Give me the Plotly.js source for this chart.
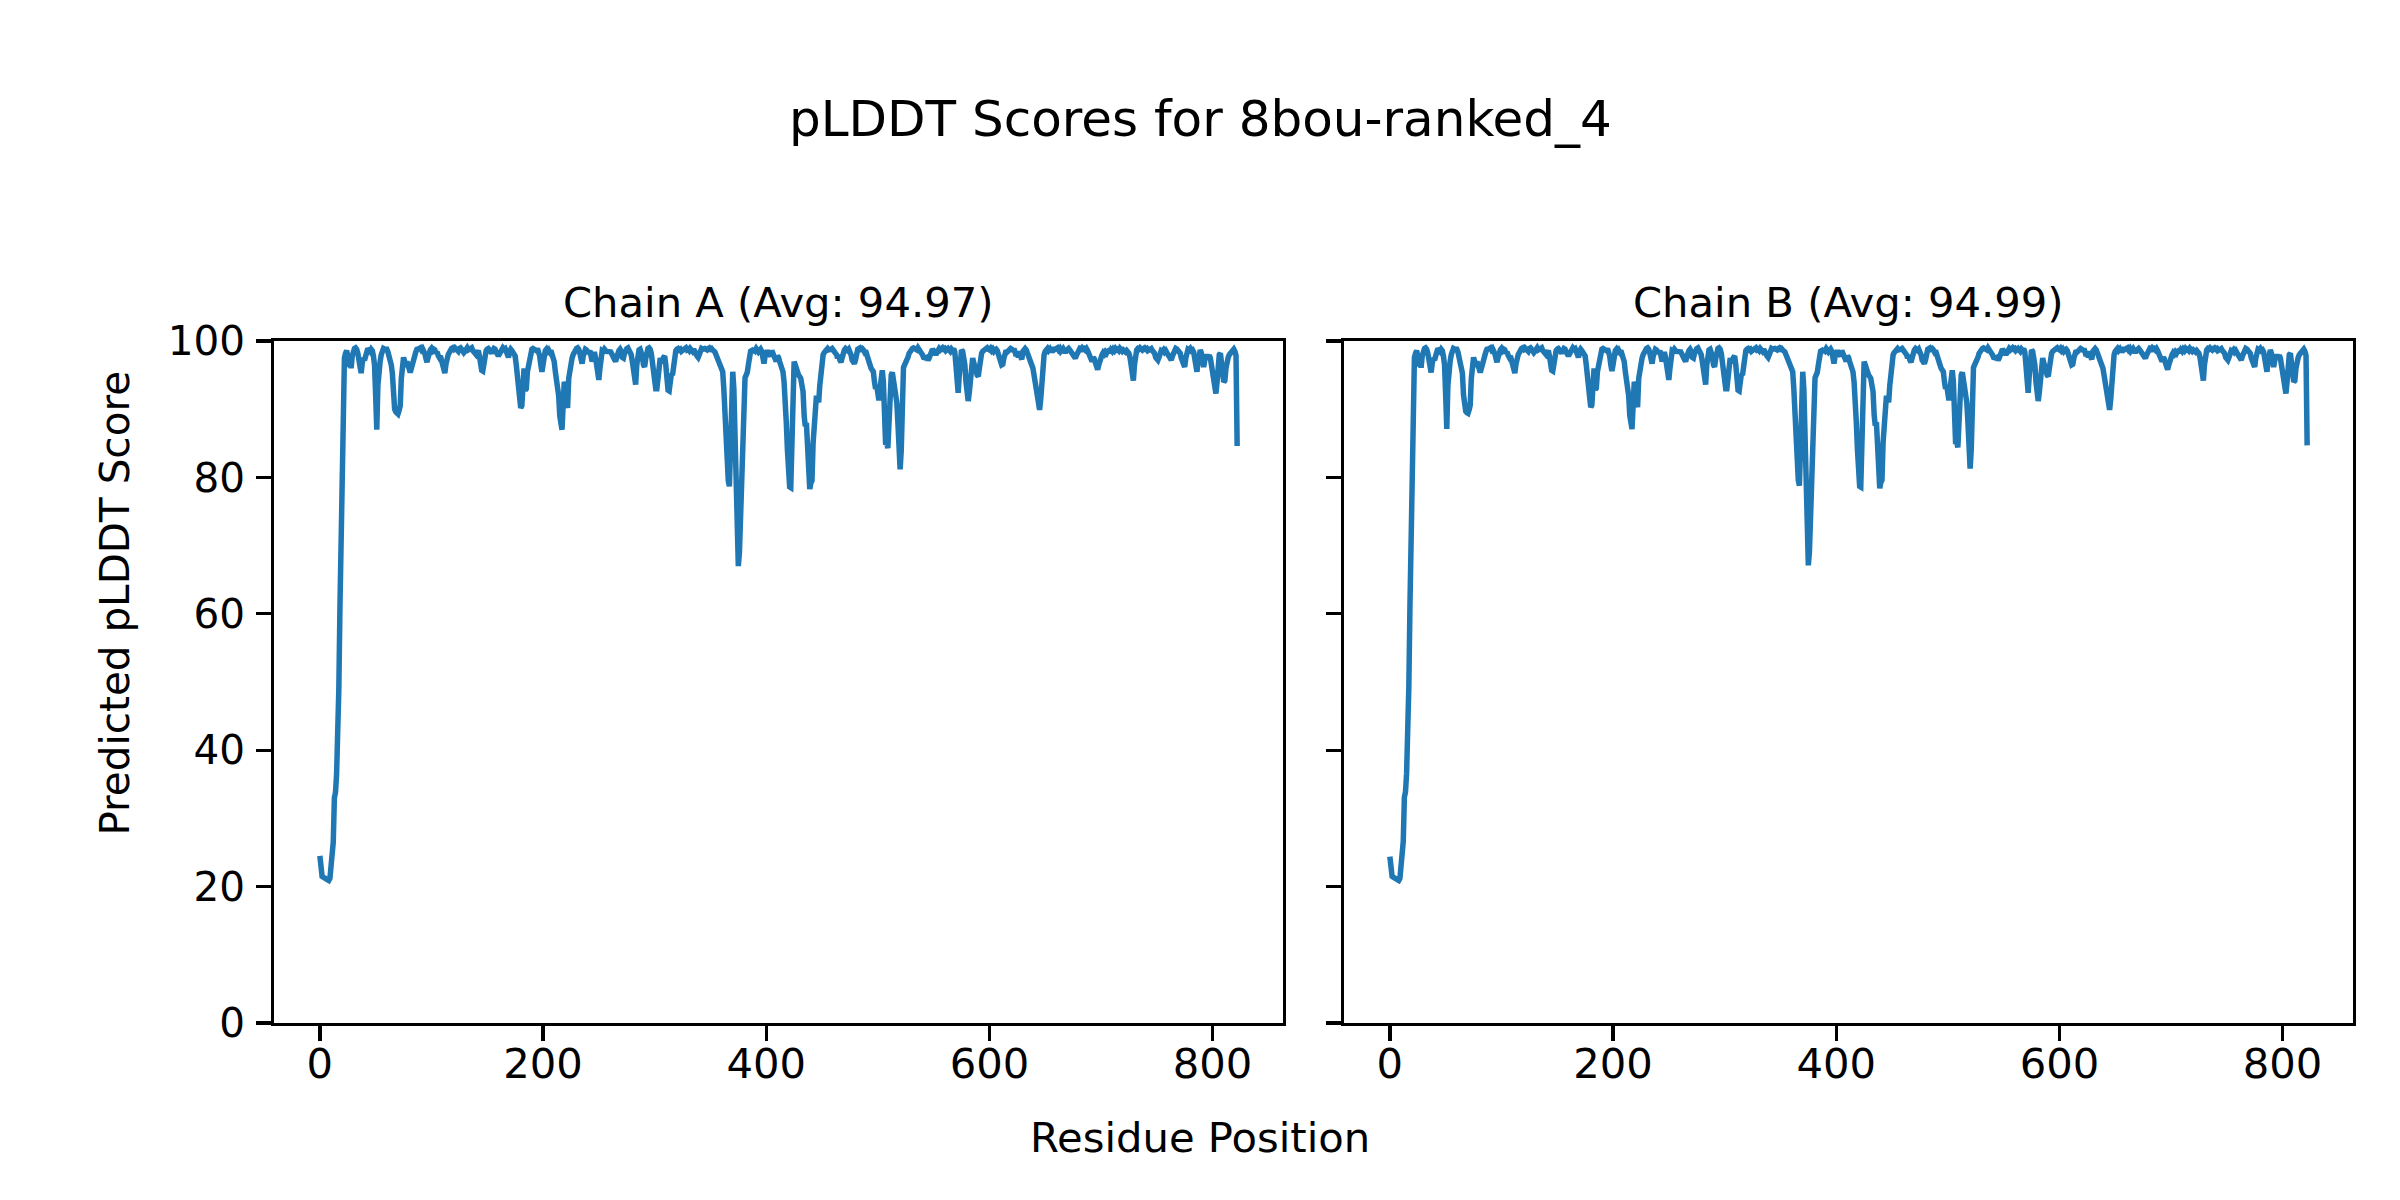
<!DOCTYPE html>
<html>
<head>
<meta charset="utf-8">
<script src="https://cdn.plot.ly/plotly-3.0.1.min.js"></script>
<style>html,body{margin:0;padding:0;background:#fff;}#chart{width:2400px;height:1200px;}</style>
</head>
<body>
<div id="chart"></div>
<script>
const figTitle = "pLDDT Scores for 8bou-ranked_4";
const chainTitles = ["Chain A (Avg: 94.97)", "Chain B (Avg: 94.99)"];
const xLabel = "Residue Position";
const yLabel = "Predicted pLDDT Score";
const xTicks = [0, 200, 400, 600, 800];
const yTicks = [0, 20, 40, 60, 80, 100];

const chainA = [
24.5,21.8,21.5,21.4,21.2,21.0,21.1,21.0,20.9,21.2,
23.5,24.2,26.5,33.0,33.8,36.5,42.0,49.0,61.0,73.0,
84.0,92.0,97.5,98.2,98.6,97.8,96.2,97.5,96.0,97.8,
98.5,98.9,99.0,98.8,98.2,97.0,96.0,95.3,96.8,97.5,
97.2,98.0,98.6,98.9,98.7,98.5,98.8,98.6,97.8,96.5,
92.0,87.0,93.5,96.2,97.0,98.0,98.6,98.9,98.8,98.7,
98.8,98.4,97.8,97.2,96.5,95.2,92.0,90.0,89.6,89.4,
89.3,89.8,90.5,94.5,96.8,97.6,97.0,96.2,97.0,96.3,
95.6,95.4,96.0,96.8,97.5,98.0,98.4,98.8,99.0,98.9,
99.0,98.7,98.9,98.6,98.2,97.5,96.9,97.6,98.4,98.7,
98.9,98.6,98.8,98.7,98.2,98.4,97.9,97.6,97.8,97.2,
96.5,95.6,95.3,96.6,97.8,98.0,98.3,98.8,98.9,99.0,
98.8,99.0,98.7,98.8,98.5,98.9,99.0,98.8,98.6,98.3,
98.5,98.9,99.0,98.7,98.9,98.8,99.0,98.6,98.4,98.2,
98.0,98.3,98.6,97.8,96.5,95.7,95.6,96.8,98.0,98.6,
98.8,98.9,98.7,98.4,98.2,98.6,98.9,98.8,98.4,98.0,
97.8,98.1,98.5,98.8,99.0,98.8,98.9,98.5,98.2,97.6,
98.5,98.8,98.6,98.4,98.2,97.8,96.5,95.0,93.0,91.0,
90.2,90.5,95.5,96.0,92.8,93.0,95.5,96.3,97.8,98.5,
98.8,98.9,98.7,98.8,98.6,98.9,98.4,97.8,96.5,95.5,
96.5,98.2,98.6,98.8,98.5,98.7,98.4,98.6,98.2,97.8,
97.0,95.5,94.5,93.8,92.0,89.0,87.5,87.0,90.5,94.0,
93.5,91.0,90.2,94.5,96.2,96.8,97.5,98.0,98.5,98.8,
98.9,99.0,98.8,98.2,97.0,96.7,97.8,98.6,98.8,98.7,
98.4,98.2,98.6,98.0,97.0,97.5,98.4,97.6,96.0,94.5,
94.3,96.0,98.0,98.6,98.5,98.8,98.6,98.3,98.7,98.2,
98.6,98.4,98.0,97.6,97.2,97.0,97.6,98.4,98.6,98.8,
98.5,97.6,97.5,98.2,98.7,98.9,99.0,98.6,98.4,98.0,
97.0,95.5,93.8,93.6,96.5,98.5,98.7,98.8,98.4,97.8,
96.5,96.2,97.4,98.5,98.9,99.0,98.8,98.2,97.0,95.0,
93.5,93.0,93.0,94.5,96.8,97.5,97.0,96.8,97.6,97.8,
96.5,94.0,92.8,92.7,94.5,95.2,95.0,96.5,98.0,98.6,
98.8,98.9,98.7,98.8,98.5,98.6,98.8,98.9,99.0,98.7,
98.8,98.6,98.9,98.7,98.5,98.8,98.6,98.2,97.8,97.6,
98.0,98.6,98.9,98.8,99.0,98.9,98.8,98.7,98.9,99.0,
98.8,98.9,98.7,98.6,98.4,98.0,97.5,97.0,96.5,96.0,
95.8,95.5,93.0,89.0,85.0,82.0,79.5,78.7,85.0,94.0,
95.5,93.0,85.0,75.0,68.5,67.0,69.0,74.0,80.0,86.0,
93.0,94.6,95.0,95.4,96.5,97.8,98.5,98.6,98.3,98.8,
98.6,98.9,98.7,98.4,98.6,98.8,98.5,97.5,96.7,97.8,
98.5,98.6,98.2,97.9,97.8,98.6,98.3,98.0,97.5,97.0,
97.8,97.6,97.0,96.5,96.2,95.5,94.0,91.8,88.0,84.0,
80.0,78.6,78.5,88.0,95.5,97.0,96.5,95.8,95.2,95.0,
94.8,94.5,93.5,92.6,89.0,87.5,88.0,84.0,79.0,78.3,
79.2,79.5,85.0,87.5,90.5,92.0,91.5,91.0,93.5,96.0,
97.5,98.0,98.3,98.5,98.7,98.9,98.7,98.9,98.8,98.9,
98.7,98.5,98.2,98.0,97.5,98.0,97.2,96.9,97.5,98.5,
98.7,98.9,98.8,98.6,98.8,98.5,98.0,97.2,96.8,96.7,
97.2,98.2,98.8,98.9,99.0,98.8,98.9,98.7,98.4,98.6,
98.2,97.8,97.2,96.5,96.0,95.8,95.5,94.0,93.0,93.5,
92.5,91.3,93.0,95.5,95.7,94.0,89.0,84.8,85.0,84.3,
88.5,93.0,95.0,95.4,94.5,93.0,92.0,91.0,88.0,84.0,
81.2,84.0,92.0,96.1,96.5,96.8,97.0,97.6,98.2,98.6,
98.8,98.9,99.0,98.8,98.9,98.7,99.0,98.8,98.5,98.2,
98.0,97.6,97.4,97.5,97.6,97.2,97.5,98.0,98.6,98.8,
98.6,98.4,98.0,98.3,98.8,98.9,98.7,98.9,99.0,98.8,
98.9,98.6,98.8,98.9,98.7,98.5,98.8,98.6,98.9,98.4,
96.5,93.0,92.4,95.0,98.0,98.7,98.5,97.8,96.5,94.0,
92.0,91.2,92.5,95.0,97.0,97.5,96.8,96.5,95.8,95.0,
94.8,96.0,97.5,98.2,98.5,98.7,98.6,98.9,99.0,98.8,
98.7,98.9,98.6,98.8,98.5,98.7,98.8,98.6,98.2,97.8,
97.0,96.5,96.6,97.5,98.2,98.6,98.4,98.7,98.6,98.9,
98.8,98.5,98.9,98.4,97.8,98.5,97.6,98.2,97.5,97.3,
98.5,98.8,98.9,98.7,98.3,98.0,97.2,97.0,96.5,96.0,
95.0,94.0,92.5,91.0,90.2,89.9,91.5,94.5,97.0,98.0,
98.5,98.7,98.9,98.6,98.8,98.4,98.9,99.0,98.7,98.9,
98.8,99.0,98.7,98.9,98.5,98.8,98.9,98.6,98.3,98.6,
98.8,98.9,98.7,98.5,98.4,98.1,97.8,97.5,97.9,98.4,
98.7,98.9,98.8,99.0,98.8,98.9,98.7,98.9,98.6,98.2,
97.8,97.2,97.0,97.6,97.4,96.8,96.0,95.8,96.5,97.3,
97.8,98.0,98.3,98.1,98.4,98.2,98.5,98.6,98.3,98.7,
98.5,98.8,98.6,98.9,98.7,98.8,98.6,98.9,98.7,98.5,
98.7,98.6,98.4,98.6,98.5,98.2,97.6,96.0,94.5,94.2,
96.5,98.2,98.7,98.9,98.8,99.0,98.9,98.7,98.9,99.0,
98.8,98.9,98.6,98.8,98.7,98.9,98.6,98.5,98.2,97.6,
97.3,97.2,97.6,98.2,98.6,98.5,98.7,98.4,98.6,98.3,
98.0,97.6,97.3,97.2,97.8,98.4,98.7,98.9,98.8,98.6,
98.7,98.2,97.5,96.8,96.3,96.2,97.5,98.5,98.8,98.7,
98.9,98.6,98.7,98.4,97.2,95.6,95.5,97.0,98.5,98.7,
98.2,96.5,96.2,97.2,97.8,98.0,97.6,97.9,97.5,96.5,
95.0,93.5,92.5,92.3,94.0,96.5,98.0,98.2,97.0,95.5,
94.0,94.2,96.0,97.5,97.6,98.0,98.3,98.6,98.7,98.8,
98.5,97.9,84.6
];

const chainB = [
24.4,21.7,21.5,21.4,21.2,21.0,21.1,21.0,20.9,21.2,
23.6,24.3,26.6,33.1,33.9,36.6,42.2,49.3,61.2,73.2,
84.2,92.1,97.6,98.2,98.6,97.8,96.3,97.5,96.1,97.8,
98.5,98.9,99.0,98.8,98.2,97.0,96.1,95.4,96.8,97.5,
97.2,98.0,98.6,98.9,98.7,98.5,98.8,98.6,97.8,96.5,
92.1,87.1,93.5,96.2,97.0,98.0,98.6,98.9,98.8,98.7,
98.8,98.4,97.8,97.2,96.5,95.3,92.1,90.1,89.7,89.5,
89.4,89.9,90.6,94.5,96.8,97.6,97.0,96.2,97.0,96.3,
95.6,95.4,96.0,96.8,97.5,98.0,98.4,98.8,99.0,98.9,
99.0,98.7,98.9,98.6,98.2,97.5,96.9,97.6,98.4,98.7,
98.9,98.6,98.8,98.7,98.2,98.4,97.9,97.6,97.8,97.2,
96.5,95.6,95.3,96.6,97.8,98.0,98.3,98.8,98.9,99.0,
98.8,99.0,98.7,98.8,98.5,98.9,99.0,98.8,98.6,98.3,
98.5,98.9,99.0,98.7,98.9,98.8,99.0,98.6,98.4,98.2,
98.0,98.3,98.6,97.8,96.5,95.7,95.6,96.8,98.0,98.6,
98.8,98.9,98.7,98.4,98.2,98.6,98.9,98.8,98.4,98.0,
97.8,98.1,98.5,98.8,99.0,98.8,98.9,98.5,98.2,97.6,
98.5,98.8,98.6,98.4,98.2,97.8,96.5,95.0,93.1,91.1,
90.3,90.6,95.5,96.0,92.9,93.1,95.5,96.3,97.8,98.5,
98.8,98.9,98.7,98.8,98.6,98.9,98.4,97.8,96.5,95.6,
96.5,98.2,98.6,98.8,98.5,98.7,98.4,98.6,98.2,97.8,
97.0,95.5,94.5,93.8,92.0,89.1,87.6,87.1,90.6,94.0,
93.5,91.1,90.3,94.5,96.2,96.8,97.5,98.0,98.5,98.8,
98.9,99.0,98.8,98.2,97.0,96.7,97.8,98.6,98.8,98.7,
98.4,98.2,98.6,98.0,97.0,97.5,98.4,97.6,96.0,94.5,
94.3,96.0,98.0,98.6,98.5,98.8,98.6,98.3,98.7,98.2,
98.6,98.4,98.0,97.6,97.2,97.0,97.6,98.4,98.6,98.8,
98.5,97.6,97.5,98.2,98.7,98.9,99.0,98.6,98.4,98.0,
97.0,95.5,93.8,93.6,96.5,98.5,98.7,98.8,98.4,97.8,
96.5,96.2,97.4,98.5,98.9,99.0,98.8,98.2,97.0,95.0,
93.5,93.0,93.0,94.5,96.8,97.5,97.0,96.8,97.6,97.8,
96.5,94.0,92.8,92.7,94.5,95.2,95.0,96.5,98.0,98.6,
98.8,98.9,98.7,98.8,98.5,98.6,98.8,98.9,99.0,98.7,
98.8,98.6,98.9,98.7,98.5,98.8,98.6,98.2,97.8,97.6,
98.0,98.6,98.9,98.8,99.0,98.9,98.8,98.7,98.9,99.0,
98.8,98.9,98.7,98.6,98.4,98.0,97.5,97.0,96.5,96.0,
95.8,95.5,93.0,89.1,85.1,82.1,79.6,78.8,85.1,94.0,
95.5,93.0,85.1,75.1,68.6,67.1,69.1,74.1,80.1,86.1,
93.0,94.6,95.0,95.4,96.5,97.8,98.5,98.6,98.3,98.8,
98.6,98.9,98.7,98.4,98.6,98.8,98.5,97.5,96.7,97.8,
98.5,98.6,98.2,97.9,97.8,98.6,98.3,98.0,97.5,97.0,
97.8,97.6,97.0,96.5,96.2,95.5,94.0,91.9,88.1,84.1,
80.1,78.7,78.6,88.1,95.5,97.0,96.5,95.8,95.2,95.0,
94.8,94.5,93.5,92.6,89.1,87.6,88.1,84.1,79.1,78.4,
79.3,79.6,85.1,87.6,90.6,92.0,91.5,91.0,93.5,96.0,
97.5,98.0,98.3,98.5,98.7,98.9,98.7,98.9,98.8,98.9,
98.7,98.5,98.2,98.0,97.5,98.0,97.2,96.9,97.5,98.5,
98.7,98.9,98.8,98.6,98.8,98.5,98.0,97.2,96.8,96.7,
97.2,98.2,98.8,98.9,99.0,98.8,98.9,98.7,98.4,98.6,
98.2,97.8,97.2,96.5,96.0,95.8,95.5,94.0,93.0,93.5,
92.5,91.3,93.0,95.5,95.7,94.0,89.1,84.9,85.1,84.4,
88.6,93.0,95.0,95.4,94.5,93.0,92.0,91.0,88.1,84.1,
81.3,84.1,92.0,96.1,96.5,96.8,97.0,97.6,98.2,98.6,
98.8,98.9,99.0,98.8,98.9,98.7,99.0,98.8,98.5,98.2,
98.0,97.6,97.4,97.5,97.6,97.2,97.5,98.0,98.6,98.8,
98.6,98.4,98.0,98.3,98.8,98.9,98.7,98.9,99.0,98.8,
98.9,98.6,98.8,98.9,98.7,98.5,98.8,98.6,98.9,98.4,
96.5,93.0,92.4,95.0,98.0,98.7,98.5,97.8,96.5,94.0,
92.0,91.2,92.5,95.0,97.0,97.5,96.8,96.5,95.8,95.0,
94.8,96.0,97.5,98.2,98.5,98.7,98.6,98.9,99.0,98.8,
98.7,98.9,98.6,98.8,98.5,98.7,98.8,98.6,98.2,97.8,
97.0,96.5,96.6,97.5,98.2,98.6,98.4,98.7,98.6,98.9,
98.8,98.5,98.9,98.4,97.8,98.5,97.6,98.2,97.5,97.3,
98.5,98.8,98.9,98.7,98.3,98.0,97.2,97.0,96.5,96.0,
95.0,94.0,92.5,91.0,90.2,89.9,91.5,94.5,97.0,98.0,
98.5,98.7,98.9,98.6,98.8,98.4,98.9,99.0,98.7,98.9,
98.8,99.0,98.7,98.9,98.5,98.8,98.9,98.6,98.3,98.6,
98.8,98.9,98.7,98.5,98.4,98.1,97.8,97.5,97.9,98.4,
98.7,98.9,98.8,99.0,98.8,98.9,98.7,98.9,98.6,98.2,
97.8,97.2,97.0,97.6,97.4,96.8,96.0,95.8,96.5,97.3,
97.8,98.0,98.3,98.1,98.4,98.2,98.5,98.6,98.3,98.7,
98.5,98.8,98.6,98.9,98.7,98.8,98.6,98.9,98.7,98.5,
98.7,98.6,98.4,98.6,98.5,98.2,97.6,96.0,94.5,94.2,
96.5,98.2,98.7,98.9,98.8,99.0,98.9,98.7,98.9,99.0,
98.8,98.9,98.6,98.8,98.7,98.9,98.6,98.5,98.2,97.6,
97.3,97.2,97.6,98.2,98.6,98.5,98.7,98.4,98.6,98.3,
98.0,97.6,97.3,97.2,97.8,98.4,98.7,98.9,98.8,98.6,
98.7,98.2,97.5,96.8,96.3,96.2,97.5,98.5,98.8,98.7,
98.9,98.6,98.7,98.4,97.2,95.6,95.5,97.0,98.5,98.7,
98.2,96.5,96.2,97.2,97.8,98.0,97.6,97.9,97.5,96.5,
95.0,93.5,92.5,92.3,94.0,96.5,98.0,98.2,97.0,95.5,
94.0,94.2,96.0,97.5,97.6,98.0,98.3,98.6,98.7,98.8,
98.5,97.9,84.7
];

const residuesA = chainA.map((_, i) => i);
const residuesB = chainB.map((_, i) => i);

const FONT = "DejaVu Sans, sans-serif";
const LINE_COLOR = "#1f77b4";
const n = chainA.length - 1;
const pad = 0.05 * n;
const xRange = [-pad, n + pad];

function xAxis(domain, anchor) {
  return {
    domain: domain, anchor: anchor, range: xRange,
    tickvals: xTicks, ticktext: xTicks.map(String),
    ticks: "outside", ticklen: 14.6, tickwidth: 3.3, tickcolor: "#000",
    ticklabelstandoff: -13,
    showline: true, linecolor: "#000", linewidth: 3.3, mirror: true,
    showgrid: false, zeroline: false,
    tickfont: {family: FONT, size: 41.7, color: "#000"}
  };
}
function yAxis(anchor, showLabels) {
  return {
    domain: [0.1475, 0.7158], anchor: anchor, range: [0, 100],
    tickvals: yTicks, ticktext: yTicks.map(String), showticklabels: showLabels,
    ticks: "outside", ticklen: 14.6, tickwidth: 3.3, tickcolor: "#000",
    ticklabelstandoff: 3,
    showline: true, linecolor: "#000", linewidth: 3.3, mirror: true,
    showgrid: false, zeroline: false,
    tickfont: {family: FONT, size: 40.5, color: "#000"}
  };
}

const traces = [
  {x: residuesA, y: chainA, xaxis: "x", yaxis: "y", type: "scatter", mode: "lines",
   line: {color: LINE_COLOR, width: 5.5}, showlegend: false, hoverinfo: "skip"},
  {x: residuesB, y: chainB, xaxis: "x2", yaxis: "y2", type: "scatter", mode: "lines",
   line: {color: LINE_COLOR, width: 5.5}, showlegend: false, hoverinfo: "skip"}
];

const domA = [274/2400, 1283/2400];
const domB = [1344/2400, 2353/2400];

const layout = {
  width: 2400, height: 1200,
  margin: {l: 0, r: 0, t: 0, b: 0},
  paper_bgcolor: "#fff", plot_bgcolor: "#fff",
  font: {family: FONT, color: "#000"},
  xaxis: xAxis(domA, "y"),
  yaxis: yAxis("x", true),
  xaxis2: xAxis(domB, "y2"),
  yaxis2: yAxis("x2", false),
  annotations: [
    {text: figTitle, xref: "paper", yref: "paper", x: 0.5, y: 1 - 119/1200,
     xanchor: "center", yanchor: "middle", showarrow: false, font: {family: FONT, size: 50, color: "#000"}},
    {text: chainTitles[0], xref: "paper", yref: "paper", x: (domA[0]+domA[1])/2, y: 1 - 303/1200,
     xanchor: "center", yanchor: "middle", showarrow: false, font: {family: FONT, size: 41.7, color: "#000"}},
    {text: chainTitles[1], xref: "paper", yref: "paper", x: (domB[0]+domB[1])/2, y: 1 - 303/1200,
     xanchor: "center", yanchor: "middle", showarrow: false, font: {family: FONT, size: 41.7, color: "#000"}},
    {text: xLabel, xref: "paper", yref: "paper", x: 0.5, y: 1 - 1137/1200,
     xanchor: "center", yanchor: "middle", showarrow: false, font: {family: FONT, size: 41.7, color: "#000"}},
    {text: yLabel, xref: "paper", yref: "paper", x: 115/2400, y: 0.497, textangle: -90,
     xanchor: "center", yanchor: "middle", showarrow: false, font: {family: FONT, size: 40.5, color: "#000"}}
  ]
};

Plotly.newPlot("chart", traces, layout, {staticPlot: true, displayModeBar: false});
</script>
</body>
</html>
